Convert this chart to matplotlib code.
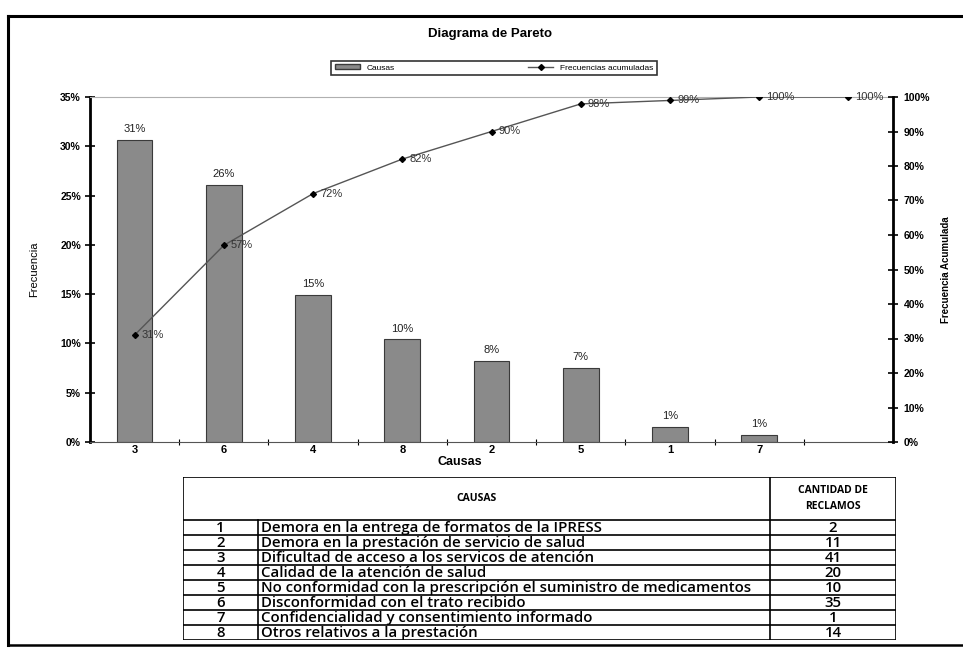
import numpy as np
import matplotlib.pyplot as plt
from matplotlib.lines import Line2D
from matplotlib.patches import Patch

plt.rcParams["font.family"] = ["Liberation Sans", "DejaVu Sans"]

# datos del diagrama (orden de Pareto)
causas = ["3", "6", "4", "8", "2", "5", "1", "7", ""]
frecuencia = [0.306, 0.261, 0.149, 0.104, 0.082, 0.075, 0.015, 0.007]
frec_labels = ["31%", "26%", "15%", "10%", "8%", "7%", "1%", "1%"]
acumulada = [0.31, 0.57, 0.72, 0.82, 0.90, 0.98, 0.99, 1.00, 1.00]
acum_labels = ["31%", "57%", "72%", "82%", "90%", "98%", "99%", "100%", "100%"]

# tabla de causas
tabla_num = ["1", "2", "3", "4", "5", "6", "7", "8"]
tabla_causas = [
    "Demora en la entrega de formatos de la IPRESS",
    "Demora en la prestación de servicio de salud",
    "Dificultad de acceso a los servicos de atención",
    "Calidad de la atención de salud",
    "No conformidad con la prescripción el suministro de medicamentos",
    "Disconformidad con el trato recibido",
    "Confidencialidad y consentimiento informado",
    "Otros relativos a la prestación",
]
tabla_reclamos = ["2", "11", "41", "20", "10", "35", "1", "14"]

W, H = 963, 657
fig = plt.figure(figsize=(W / 100, H / 100), dpi=100)

# marco exterior
fig.add_artist(Line2D([8 / W, 8 / W], [1 - 645 / H, 1 - 16 / H], color="black", lw=2.2))
fig.add_artist(Line2D([8 / W, 1.0], [1 - 16 / H, 1 - 16 / H], color="black", lw=2.2))
fig.add_artist(Line2D([8 / W, 1.0], [1 - 645 / H, 1 - 645 / H], color="black", lw=1.8))

ax = fig.add_axes([90 / W, 1 - 442 / H, 803 / W, 345 / H])
x = np.arange(len(causas))
bars = ax.bar(x[:len(frecuencia)], frecuencia, width=0.4, color="#8a8a8a",
              edgecolor="#3a3a3a", linewidth=0.8)
for xi, v, lab in zip(x, frecuencia, frec_labels):
    ax.text(xi, v + 0.006, lab, ha="center", va="bottom", fontsize=8, color="#222222")

ax.set_xlim(-0.5, len(causas) - 0.5)
ax.set_ylim(0, 0.35)
ax.set_yticks(np.arange(0, 0.351, 0.05))
ax.set_yticklabels([f"{int(round(t * 100))}%" for t in np.arange(0, 0.351, 0.05)],
                   fontsize=7.5, fontweight="bold")
ax.tick_params(axis="y", direction="inout", length=7, width=1.2, pad=3)
ax.set_xticks(np.arange(0.5, len(causas) - 1, 1.0))
ax.set_xticklabels([])
ax.tick_params(axis="x", direction="inout", length=5, width=0.8)
ax.set_xticks(x, minor=True)
ax.set_xticklabels(causas, minor=True, fontsize=8, fontweight="bold")
ax.tick_params(axis="x", which="minor", length=0, pad=2)
ax.set_ylabel("Frecuencia", fontsize=8, labelpad=15)
ax.text(3.65, -0.020, "Causas", ha="center", va="center", fontsize=9, fontweight="bold")

ax.spines["left"].set_linewidth(2)
ax.spines["right"].set_visible(False)
ax.spines["top"].set_color("#b0b0b0")
ax.spines["bottom"].set_color("#555555")

ax2 = ax.twinx()
ax2.plot(x, acumulada, color="#555555", lw=1.0, marker="D", markersize=3,
         markerfacecolor="black", markeredgecolor="black")
for xi, v, lab in zip(x, acumulada, acum_labels):
    ax2.text(xi + 0.08, v, lab, ha="left", va="center", fontsize=8, color="#333333")
ax2.set_ylim(0, 1.0)
ax2.set_yticks(np.arange(0, 1.01, 0.1))
ax2.set_yticklabels([f"{int(round(t * 100))}%" for t in np.arange(0, 1.01, 0.1)],
                    fontsize=7.5, fontweight="bold")
ax2.tick_params(axis="y", direction="inout", length=7, width=1.2, pad=4)
ax2.spines["right"].set_linewidth(2)
ax2.spines["left"].set_visible(False)
ax2.spines["top"].set_visible(False)
ax2.spines["bottom"].set_visible(False)
ax2.set_ylabel("Frecuencia Acumulada", fontsize=7, fontweight="bold", labelpad=8)

fig.text(490 / W, 1 - 34 / H, "Diagrama de Pareto", ha="center", va="center",
         fontsize=9.5, fontweight="bold")

handles = [Patch(facecolor="#8a8a8a", edgecolor="#3a3a3a"),
           Line2D([], [], color="#555555", lw=1, marker="D", markersize=3,
                  markerfacecolor="black", markeredgecolor="black")]
leg = fig.legend(handles, ["Causas", "Frecuencias acumuladas"], ncol=2,
                 loc="center", bbox_to_anchor=(494 / W, 1 - 68 / H), fontsize=6,
                 frameon=True, fancybox=False, edgecolor="black",
                 columnspacing=16, handlelength=3, handleheight=0.5,
                 borderpad=0.45, borderaxespad=0)
leg.get_frame().set_linewidth(1.2)

# tabla
tx0, ty0, tw, th = 183, 477, 713, 163
tab = fig.add_axes([tx0 / W, 1 - (ty0 + th) / H, tw / W, th / H])
tab.set_xlim(0, tw)
tab.set_ylim(th, 0)
tab.axis("off")
c1, c2 = 75, 587
hh, rh = 43, 15
lk = dict(color="black", lw=1.2)
fam = ["Open Sans", "DejaVu Sans"]
tab.plot([0, tw, tw, 0, 0], [0, 0, th, th, 0], **lk)
tab.plot([c2, c2], [0, th], **lk)
tab.plot([c1, c1], [hh, th], **lk)
for i in range(len(tabla_num)):
    yl = hh + i * rh
    tab.plot([0, tw], [yl, yl], **lk)
tab.text(c2 / 2, hh / 2, "CAUSAS", ha="center", va="center", fontsize=7.5,
         fontweight="bold", family=fam)
tab.text((c2 + tw) / 2, hh / 2, "CANTIDAD DE\nRECLAMOS", ha="center", va="center",
         fontsize=7.5, fontweight="bold", linespacing=1.6, family=fam)
for i, (n, c, r) in enumerate(zip(tabla_num, tabla_causas, tabla_reclamos)):
    yc = hh + (i + 0.5) * rh + 0.5
    tab.text(c1 / 2, yc, n, ha="center", va="center", fontsize=10.8,
             fontweight="semibold", family=fam)
    tab.text(c1 + 3, yc, c, ha="left", va="center", fontsize=10.8,
             fontweight="semibold", family=fam)
    tab.text((c2 + tw) / 2, yc, r, ha="center", va="center", fontsize=10.8,
             fontweight="semibold", family=fam)

plt.savefig("out.png", dpi=100)
